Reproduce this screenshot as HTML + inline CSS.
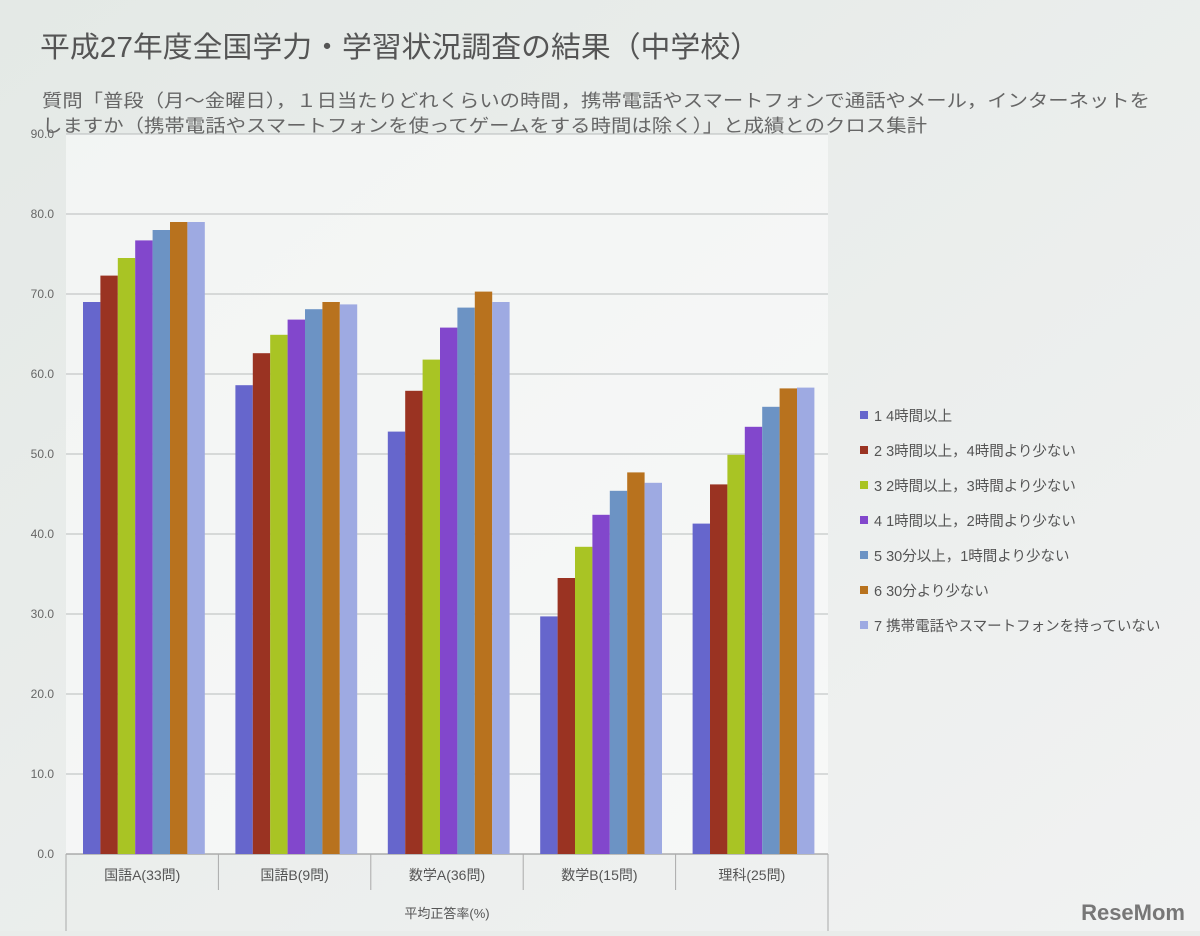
<!DOCTYPE html>
<html><head><meta charset="utf-8"><style>
html,body{margin:0;padding:0;}
body{width:1200px;height:931px;overflow:hidden;background:#e9ecea;font-family:"Liberation Sans","Noto Sans CJK JP",sans-serif;}
</style></head><body>
<svg id="c" width="1200" height="931" xmlns="http://www.w3.org/2000/svg">
<defs><linearGradient id="bg" x1="0" y1="0" x2="1" y2="1"><stop offset="0" stop-color="#e4e9e6"/><stop offset="1" stop-color="#f1f2f2"/></linearGradient></defs>
<rect width="1200" height="931" fill="url(#bg)"/>
<text x="40" y="57" font-size="29" fill="#555" textLength="720" lengthAdjust="spacingAndGlyphs">平成27年度全国学力・学習状況調査の結果（中学校）</text>
<text x="42" y="107" font-size="18" fill="#666" textLength="1108" lengthAdjust="spacingAndGlyphs">質問「普段（月～金曜日），１日当たりどれくらいの時間，携帯電話やスマートフォンで通話やメール，インターネットを</text>
<text x="42" y="132" font-size="18" fill="#666" textLength="885" lengthAdjust="spacingAndGlyphs">しますか（携帯電話やスマートフォンを使ってゲームをする時間は除く）」と成績とのクロス集計</text>
<g id="grid"></g><g id="bars"></g><g id="xl"></g><g id="leg"></g>
<text x="447" y="918" font-size="13" fill="#555" text-anchor="middle">平均正答率(%)</text>
<text x="1185" y="920" font-size="22" font-weight="bold" fill="#777" text-anchor="end">ReseMom</text>
</svg>
<script>
const categories=["国語A(33問)","国語B(9問)","数学A(36問)","数学B(15問)","理科(25問)"];
const seriesNames=["1 4時間以上","2 3時間以上，4時間より少ない","3 2時間以上，3時間より少ない","4 1時間以上，2時間より少ない","5 30分以上，1時間より少ない","6 30分より少ない","7 携帯電話やスマートフォンを持っていない"];
const s1=[69.0,58.6,52.8,29.7,41.3];
const s2=[72.3,62.6,57.9,34.5,46.2];
const s3=[74.5,64.9,61.8,38.4,49.9];
const s4=[76.7,66.8,65.8,42.4,53.4];
const s5=[78.0,68.1,68.3,45.4,55.9];
const s6=[79.0,69.0,70.3,47.7,58.2];
const s7=[79.0,68.7,69.0,46.4,58.3];
const ticks=[0,10,20,30,40,50,60,70,80,90];
const series=[s1,s2,s3,s4,s5,s6,s7];
const colors=["#6666cc","#9a3322","#a9c424","#8247cc","#6c93c4","#b8721e","#9eaae2"];
const NS="http://www.w3.org/2000/svg";
const x0=66,x1=828,y0=854,y1=134;
const Y=v=>y0-(v-0)/(90-0)*(y0-y1);
const gw=(x1-x0)/categories.length;
function mk(t,a,p){const e=document.createElementNS(NS,t);for(const k in a)e.setAttribute(k,a[k]);p.appendChild(e);return e;}
const grid=document.getElementById('grid');
const plotBg=mk('rect',{x:x0,y:y1,width:x1-x0,height:y0-y1,fill:'#fff',opacity:0.5},grid);


ticks.forEach(t=>{
 const l=mk('line',{x1:x0,x2:x1,y1:Y(t),y2:Y(t),stroke:t===0?'#888':'#b8bcbc','stroke-width':1},grid);
 
 
 const tx=mk('text',{x:54,y:Y(t)+4,'font-size':12,fill:'#666','text-anchor':'end'},grid);
 tx.textContent=t.toFixed(1);
 
 
});
const bars=document.getElementById('bars');
const bw=17.4,pad=17;
categories.forEach((c,i)=>{
 series.forEach((s,j)=>{
  const r=mk('rect',{x:x0+i*gw+pad+j*bw,y:Y(s[i]),width:bw,height:y0-Y(s[i]),fill:colors[j]},bars);
  
  
 });
});
const xl=document.getElementById('xl');
for(let i=0;i<=categories.length;i++){
 const l=mk('line',{x1:x0+i*gw,x2:x0+i*gw,y1:y0,y2:(i===0||i===categories.length)?931:890,stroke:'#aaa','stroke-width':1},xl);
 
 
}
categories.forEach((c,i)=>{
 const t=mk('text',{x:x0+(i+0.5)*gw,y:880,'font-size':14,fill:'#555','text-anchor':'middle'},xl);
 t.textContent=c;
 
 
});
const leg=document.getElementById('leg');
seriesNames.forEach((n,j)=>{
 const y=416+j*35;
 const r=mk('rect',{x:860,y:y-5,width:8,height:8,fill:colors[j]},leg);
 
 
 const t=mk('text',{x:874,y:y+5,'font-size':14.5,fill:'#555'},leg);
 t.textContent=n;
 
 
});
</script>
</body></html>
